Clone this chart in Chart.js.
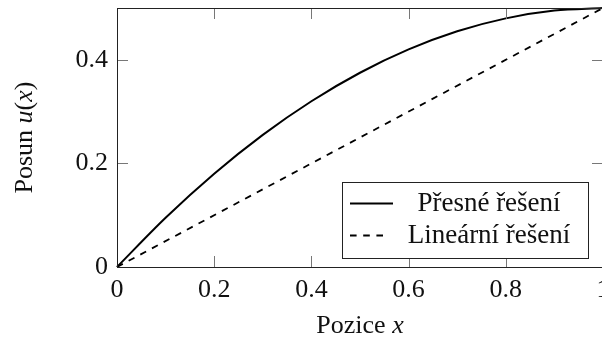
<!DOCTYPE html>
<html>
<head>
<meta charset="utf-8">
<script src="https://cdn.jsdelivr.net/npm/chart.js@4"></script>
<style>
  html, body { margin: 0; padding: 0; background: #fff; overflow: hidden; }
  #wrap { width: 640px; height: 339px; }
</style>
</head>
<body>
<div id="wrap"><canvas id="chart" width="640" height="339"></canvas></div>
<script>
// hodnoty
const xValues = [0, 0.1, 0.2, 0.3, 0.4, 0.5, 0.6, 0.7, 0.8, 0.9, 1];
const exactValues = [0, 0.095, 0.18, 0.255, 0.32, 0.375, 0.42, 0.455, 0.48, 0.495, 0.5];
const linearX = [0, 0.5, 1];
const linearValues = [0, 0.25, 0.5];
const xTicks = [0, 0.2, 0.4, 0.6, 0.8, 1];
const yTicks = [0, 0.2, 0.4];
const seriesNames = ["Přesné řešení", "Lineární řešení"];

const FONT = "Liberation Serif";
const INK = "#111";

const pairs = (xs, ys) => xs.map((x, i) => ({ x, y: ys[i] }));

const frame = {
  id: "frame",
  afterDraw(chart) {
    const { ctx, chartArea: a, scales: { x, y } } = chart;
    ctx.save();
    ctx.setLineDash([]);

    // inner ticks
    ctx.strokeStyle = "#777";
    ctx.lineWidth = 1;
    xTicks.slice(1, -1).forEach(v => {
      const px = Math.round(x.getPixelForValue(v)) + 0.5;
      ctx.beginPath();
      ctx.moveTo(px, a.bottom); ctx.lineTo(px, a.bottom - 11);
      ctx.moveTo(px, a.top); ctx.lineTo(px, a.top + 11);
      ctx.stroke();
    });
    yTicks.slice(1).forEach(v => {
      const py = Math.round(y.getPixelForValue(v)) + 0.5;
      ctx.beginPath();
      ctx.moveTo(a.left, py); ctx.lineTo(a.left + 11, py);
      ctx.moveTo(a.right, py); ctx.lineTo(a.right - 11, py);
      ctx.stroke();
    });

    // box
    ctx.strokeStyle = "#222";
    ctx.strokeRect(Math.round(a.left) + 0.5, Math.round(a.top) + 0.5,
      Math.round(a.right - a.left), Math.round(a.bottom - a.top));

    // legend
    const lx = 342, ly = 182, lw = 246, lh = 76;
    ctx.fillStyle = "#fff";
    ctx.fillRect(lx, ly, lw, lh);
    ctx.strokeRect(lx + 0.5, ly + 0.5, lw, lh);
    const rows = [203.5, 235.5];
    chart.data.datasets.forEach((ds, i) => {
      ctx.strokeStyle = ds.borderColor;
      ctx.lineWidth = ds.borderWidth;
      ctx.setLineDash(ds.borderDash || []);
      ctx.beginPath();
      ctx.moveTo(350, rows[i]);
      ctx.lineTo(ds.borderDash ? 388 : 393, rows[i]);
      ctx.stroke();
      ctx.setLineDash([]);
      ctx.fillStyle = INK;
      ctx.font = `27px "${FONT}"`;
      ctx.textAlign = "center";
      ctx.textBaseline = "middle";
      ctx.fillText(ds.label, 489, rows[i]);
    });

    // axis titles
    const drawMixed = (parts, cx, cy) => {
      let total = 0;
      parts.forEach(p => { ctx.font = p.f; total += ctx.measureText(p.t).width; });
      let pos = cx - total / 2;
      ctx.textAlign = "left";
      ctx.textBaseline = "middle";
      ctx.fillStyle = INK;
      parts.forEach(p => {
        ctx.font = p.f;
        ctx.fillText(p.t, pos, cy);
        pos += ctx.measureText(p.t).width;
      });
    };
    const R = `26px "${FONT}"`, I = `italic 26px "${FONT}"`;
    drawMixed([{ t: "Pozice ", f: R }, { t: "x", f: I }], (a.left + a.right) / 2, 326);
    ctx.translate(25, (a.top + a.bottom) / 2);
    ctx.rotate(-Math.PI / 2);
    drawMixed([{ t: "Posun ", f: R }, { t: "u", f: I }, { t: "(", f: R }, { t: "x", f: I }, { t: ")", f: R }], 0, 0);

    ctx.restore();
  }
};

new Chart(document.getElementById("chart"), {
  type: "scatter",
  data: {
    datasets: [
      {
        label: seriesNames[0],
        data: pairs(xValues, exactValues),
        showLine: true,
        borderColor: "#000",
        borderWidth: 2,
        pointRadius: 0,
        cubicInterpolationMode: "monotone",
        clip: 4
      },
      {
        label: seriesNames[1],
        data: pairs(linearX, linearValues),
        showLine: true,
        borderColor: "#000",
        borderWidth: 1.8,
        borderDash: [6.6, 6.6],
        pointRadius: 0,
        clip: 4
      }
    ]
  },
  options: {
    responsive: false,
    animation: false,
    layout: { padding: { top: 8, right: 37, left: 0, bottom: 0 } },
    plugins: { legend: { display: false }, tooltip: { enabled: false } },
    scales: {
      x: {
        type: "linear",
        min: 0, max: 1,
        afterBuildTicks: s => { s.ticks = xTicks.map(v => ({ value: v })); },
        afterFit: s => { s.height = 72; s.paddingLeft = 0; s.paddingRight = 0; },
        grid: { display: false, drawTicks: false },
        border: { display: false },
        ticks: {
          autoSkip: false, maxRotation: 0, padding: 8,
          color: INK, font: { family: FONT, size: 26 },
          callback: v => String(v)
        }
      },
      y: {
        type: "linear",
        min: 0, max: 0.5,
        afterBuildTicks: s => { s.ticks = yTicks.map(v => ({ value: v })); },
        afterFit: s => { s.width = 117; s.paddingTop = 0; s.paddingBottom = 0; },
        grid: { display: false, drawTicks: false },
        border: { display: false },
        ticks: {
          autoSkip: false, padding: 9,
          color: INK, font: { family: FONT, size: 26 },
          callback: v => String(v)
        }
      }
    }
  },
  plugins: [frame]
});
</script>
</body>
</html>
